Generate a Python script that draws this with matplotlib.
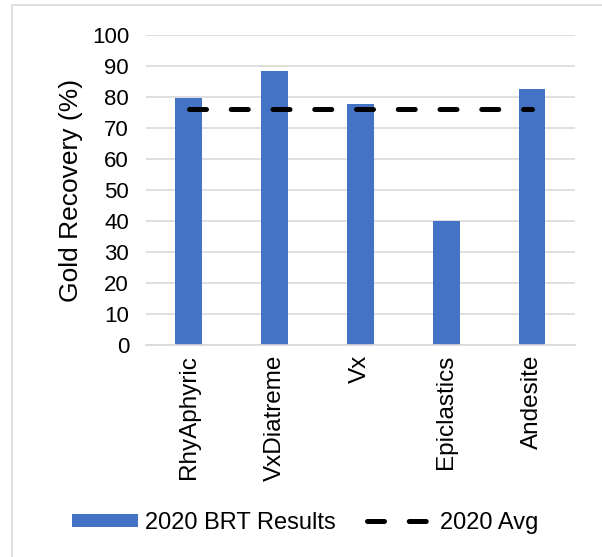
import matplotlib
matplotlib.use("Agg")
import matplotlib.pyplot as plt
from matplotlib.lines import Line2D
from matplotlib.patches import Patch, Rectangle

categories = ["RhyAphyric", "VxDiatreme", "Vx", "Epiclastics", "Andesite"]
recovery = [79.8, 88.4, 77.7, 40.1, 82.6]
avg_2020 = [76.1, 76.1, 76.1, 76.1, 76.1]
y_ticks = [0, 10, 20, 30, 40, 50, 60, 70, 80, 90, 100]

BAR_COLOR = "#4472C4"
GRID_COLOR = "#d9d9d9"

plt.rcParams["font.family"] = ["Liberation Sans", "DejaVu Sans"]

fig = plt.figure(figsize=(6.02, 5.57), dpi=100)
ax = fig.add_axes([145.7 / 602, 1 - 345 / 557, 429.3 / 602, 310 / 557])

x = list(range(len(categories)))
ax.bar(x, recovery, width=0.31, color=BAR_COLOR, zorder=2)
dash = (0, (3.4, 4.95))
ax.plot(x, avg_2020, color="black", lw=3.6, linestyle=dash,
        dash_capstyle="round", zorder=3)

ax.set_xlim(-0.5, len(categories) - 0.5)
ax.set_ylim(0, 100)
ax.set_yticks(y_ticks)
ax.set_xticks(x)
ax.set_xticklabels(categories, rotation=90, fontsize=17.5)
ax.tick_params(axis="y", labelsize=16, length=0, pad=12)
ax.tick_params(axis="x", length=0, pad=7)
ax.set_ylabel("Gold Recovery (%)", fontsize=19, labelpad=6)

ax.grid(axis="y", color=GRID_COLOR, lw=1.2, zorder=0)
for side in ["top", "right", "left"]:
    ax.spines[side].set_visible(False)
ax.spines["bottom"].set_color(GRID_COLOR)
ax.spines["bottom"].set_linewidth(1.2)

handles = [
    Patch(facecolor=BAR_COLOR, label="2020 BRT Results"),
    Line2D([], [], color="black", lw=3.6, linestyle=dash,
           dash_capstyle="round", label="2020 Avg"),
]
fig.legend(handles=handles, loc="center", bbox_to_anchor=(305 / 602, 1 - 523 / 557),
           ncol=2, frameon=False, fontsize=17, handlelength=2.8,
           handleheight=0.5, handletextpad=0.3, columnspacing=1.3)

# outer chart border (runs off the right and bottom edge)
fig.add_artist(Rectangle((12 / 602, -0.05), 1.2, 1 - 5 / 557 + 0.05,
                         transform=fig.transFigure, fill=False,
                         edgecolor=GRID_COLOR, lw=1.2))

fig.savefig("out.png", dpi=100)
plt.close(fig)
